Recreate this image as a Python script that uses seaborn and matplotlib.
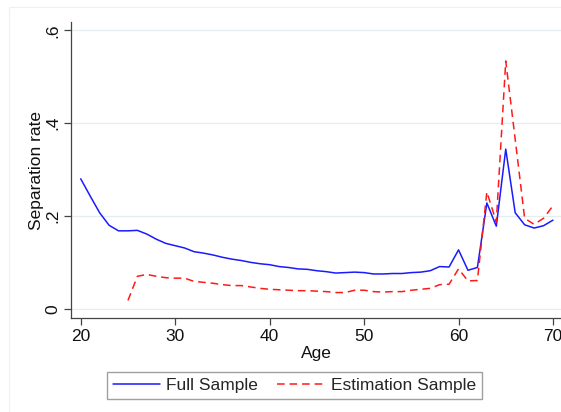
import numpy as np
import pandas as pd
import matplotlib
matplotlib.use("Agg")
import matplotlib.pyplot as plt
from matplotlib.patches import Rectangle
from matplotlib.lines import Line2D
import seaborn as sns

ages = list(range(20, 71))

full_sample = [
    0.280, 0.243, 0.207, 0.180, 0.168, 0.168, 0.169, 0.161, 0.150, 0.141,
    0.136, 0.131, 0.123, 0.120, 0.116, 0.111, 0.107, 0.104, 0.100, 0.097,
    0.095, 0.091, 0.089, 0.086, 0.085, 0.082, 0.080, 0.077, 0.078, 0.079,
    0.078, 0.075, 0.075, 0.076, 0.076, 0.078, 0.079, 0.082, 0.091, 0.090,
    0.127, 0.083, 0.089, 0.228, 0.178, 0.344, 0.207, 0.181, 0.174, 0.179,
    0.191,
]

estimation_sample = [
    np.nan, np.nan, np.nan, np.nan, np.nan, 0.018, 0.070, 0.074, 0.070, 0.067,
    0.066, 0.066, 0.059, 0.057, 0.055, 0.052, 0.050, 0.050, 0.047, 0.044,
    0.042, 0.041, 0.040, 0.039, 0.039, 0.038, 0.037, 0.035, 0.035, 0.040,
    0.040, 0.037, 0.036, 0.037, 0.037, 0.040, 0.042, 0.044, 0.052, 0.053,
    0.086, 0.060, 0.061, 0.252, 0.187, 0.534, 0.365, 0.195, 0.182, 0.195,
    0.222,
]

series_names = ["Full Sample", "Estimation Sample"]
y_ticks = [0, 0.2, 0.4, 0.6]
y_tick_labels = ["0", ".2", ".4", ".6"]
x_ticks = [20, 30, 40, 50, 60, 70]

BLUE = "#1a1aff"
RED = "#ff1a1a"
DASH = (5, 3.2)
FS = 12.5

df = pd.concat([
    pd.DataFrame({"Age": ages, "rate": full_sample, "series": series_names[0]}),
    pd.DataFrame({"Age": ages, "rate": estimation_sample, "series": series_names[1]}),
]).dropna()

sns.set_theme(style="white")
plt.rcParams["font.family"] = ["Liberation Sans", "DejaVu Sans"]

fig = plt.figure(figsize=(5.61, 4.12), dpi=100)
ax = fig.add_axes([71 / 561, 1 - 318.3 / 412, 1 - 71 / 561, (318.3 - 22) / 412])

sns.lineplot(
    data=df, x="Age", y="rate", hue="series", style="series",
    palette={series_names[0]: BLUE, series_names[1]: RED},
    dashes={series_names[0]: "", series_names[1]: DASH},
    linewidth=1.1, ax=ax, legend=False,
)

ax.set_xlim(18.97, 70.85)
ax.set_ylim(-0.0205, 0.618)
ax.set_yticks(y_ticks)
ax.set_yticklabels(y_tick_labels, rotation=90, va="center")
ax.set_xticks(x_ticks)
ax.grid(axis="y", color="#e4eef0", linewidth=0.9)
ax.grid(axis="x", visible=False)
for side in ["top", "right"]:
    ax.spines[side].set_visible(False)
for side in ["left", "bottom"]:
    ax.spines[side].set_color("#444444")
    ax.spines[side].set_linewidth(0.9)
ax.tick_params(axis="both", which="major", direction="out", length=5,
               width=0.9, color="#444444", labelsize=FS, labelcolor="#111111",
               left=True, bottom=True, pad=3)
ax.set_xlabel("Age", fontsize=FS, color="#111111", labelpad=1)
ax.set_ylabel("Separation rate", fontsize=FS, color="#111111", labelpad=1)

handles = [
    Line2D([], [], color=BLUE, linewidth=1.1),
    Line2D([], [], color=RED, linewidth=1.1, linestyle=(0, DASH)),
]
leg = fig.legend(
    handles, series_names, ncol=2, loc="center",
    bbox_to_anchor=(294.5 / 561, 1 - 385.5 / 412),
    frameon=True, fancybox=False, edgecolor="#888888", fontsize=FS,
    handlelength=2.7, columnspacing=1.1, handletextpad=0.4,
    borderpad=0.35, borderaxespad=0,
)
leg.get_frame().set_linewidth(1.0)

fig.patches.append(Rectangle((9 / 561, -0.05), 1.0, 1.05 - 7 / 412,
                             transform=fig.transFigure, fill=False,
                             edgecolor="#f0f0f0", linewidth=0.8))

fig.savefig("out.png", dpi=100)
